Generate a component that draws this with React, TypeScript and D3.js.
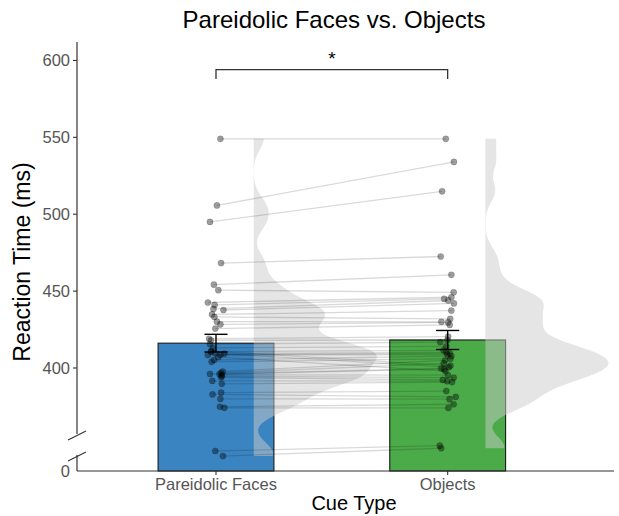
import React from "react";
import * as d3 from "d3";

// ---------------- data ----------------
const categories = ["Pareidolic Faces", "Objects"];
// reaction times (ms) per participant, same order in both arrays (paired)
const facesRT = [549, 505.7, 495, 468.2, 454.2, 450.6, 442.6, 441, 438.4, 437.7, 434.8, 433.2, 430.1, 428.3, 425.6, 419, 418, 415.5, 413, 411, 410.6, 409.5, 409.3, 408.6, 408.5, 407, 405.2, 404, 397.7, 396.8, 396.1, 396, 395.5, 394.6, 393.9, 391.6, 389.7, 384, 382.8, 379.9, 374.8, 374.1, 346, 342.7];
const objectsRT = [549, 534, 514.9, 472.5, 460.6, 449.2, 446, 445, 443.9, 442, 437.3, 431.9, 430, 429.6, 428, 420.4, 418.2, 416.8, 414, 401.5, 411.5, 400.5, 410.2, 409.5, 408.7, 398, 407.8, 406, 405, 403, 399.8, 399.2, 395.4, 393.7, 392.2, 391.4, 390.8, 385, 381.2, 379.7, 376.4, 374, 349.5, 347.8];
// horizontal jitter (category units)
const facesJitter = [0.019, 0.004, -0.026, 0.022, -0.009, 0.01, -0.035, -0.006, -0.011, 0.032, -0.017, -0.007, 0.004, 0.019, -0.003, -0.03, -0.022, -0.026, -0.013, -0.02, -0.022, -0.004, 0.036, 0.019, -0.035, 0.01, -0.009, -0.019, 0.029, 0.022, -0.026, 0.015, 0.026, 0.025, 0.022, -0.016, 0.025, 0.022, -0.015, 0.019, 0.017, 0.036, -0.003, 0.03];
const objectsJitter = [-0.008, 0.027, -0.024, -0.03, 0.016, 0.026, 0.016, -0.015, 0.002, 0.027, 0.016, 0.011, -0.027, 0.002, 0.009, 0.002, -0.001, -0.032, -0.006, 0.012, -0.018, 0.005, -0.006, 0.009, -0.001, -0.01, 0.016, 0.012, -0.011, -0.017, -0.028, -0.015, 0.001, 0.026, -0.021, -0.002, 0.019, -0.006, 0.035, 0.008, 0.026, 0.003, -0.034, -0.028];
const yTicks = [400, 450, 500, 550, 600];
const yFloor = 333; // displayed as "0" below the axis break
const yTop = 612;
const floorLabel = "0";
const barColors = ["#3A85C1", "#4CAB49"];
const sigLabel = "*";
const sigLevel = 594;
const title = "Pareidolic Faces vs. Objects";
const xTitle = "Cue Type";
const yTitle = "Reaction Time (ms)";

// ---------------- layout ----------------
const W = 619;
const H = 516;
const left = 77;
const right = 614;
const top = 42;
const bottom = 471;
const FONT = "'Liberation Sans', Arial, Helvetica, sans-serif";

function gauss(u: number) {
  return Math.exp(-0.5 * u * u) / Math.sqrt(2 * Math.PI);
}

export default function App() {
  const x = d3.scaleLinear().domain([0.4, 2.718]).range([left, right]);
  const y = d3.scaleLinear().domain([yFloor, yTop]).range([bottom, top]);
  const groups = [facesRT, objectsRT];
  const jitters = [facesJitter, objectsJitter];
  const barW = 0.5;
  const violinNudge = 0.163;
  const violinMax = 123;
  const bw = 7;

  const stats = groups.map((g) => {
    const m = d3.mean(g) as number;
    const sd = d3.deviation(g) as number;
    return { mean: m, se: sd / Math.sqrt(g.length) };
  });

  const violins = groups.map((g, gi) => {
    const lo = d3.min(g) as number;
    const hi = d3.max(g) as number;
    const grid = d3.range(0, 257).map((i) => lo + ((hi - lo) * i) / 256);
    const dens = grid.map((v) => d3.mean(g, (d) => gauss((v - d) / bw)) as number);
    const maxD = d3.max(dens) as number;
    const base = x(gi + 1 + violinNudge);
    const pts = grid.map((v, i) => ({ v, w: (dens[i] / maxD) * violinMax }));
    const area = d3
      .area<{ v: number; w: number }>()
      .x0(() => base)
      .x1((d) => base + d.w)
      .y((d) => y(d.v))
      .curve(d3.curveLinear);
    return area(pts) as string;
  });

  const breakTop = 434;
  const breakBottom = 455;

  return (
    <svg
      width={W}
      height={H}
      style={{ position: "absolute", left: 0, top: 0, background: "#fff" }}
      fontFamily={FONT}
    >
      <rect x={0} y={0} width={W} height={H} fill="#fff" />
      {/* bars */}
      {stats.map((s, i) => (
        <rect
          key={"bar" + i}
          x={x(i + 1 - barW / 2)}
          y={y(s.mean)}
          width={x(i + 1 + barW / 2) - x(i + 1 - barW / 2)}
          height={y(yFloor) - y(s.mean)}
          fill={barColors[i]}
          stroke="#1a1a1a"
          strokeWidth={1.1}
        />
      ))}
      {/* half violins */}
      {violins.map((p, i) => (
        <path key={"vio" + i} d={p} fill="#cccccc" fillOpacity={0.5} stroke="none" />
      ))}
      {/* paired lines */}
      {facesRT.map((f, i) => (
        <line
          key={"ln" + i}
          x1={x(1 + facesJitter[i])}
          y1={y(f)}
          x2={x(2 + objectsJitter[i])}
          y2={y(objectsRT[i])}
          stroke="#000"
          strokeOpacity={0.15}
          strokeWidth={1.3}
        />
      ))}
      {/* points */}
      {groups.map((g, gi) =>
        g.map((v, i) => (
          <circle
            key={"pt" + gi + "-" + i}
            cx={x(gi + 1 + jitters[gi][i])}
            cy={y(v)}
            r={3.1}
            fill="#000"
            fillOpacity={0.38}
            stroke="#000"
            strokeOpacity={0.25}
            strokeWidth={0.6}
          />
        ))
      )}
      {/* error bars */}
      {stats.map((s, i) => {
        const cx = x(i + 1);
        const hw = x(1.05) - x(1);
        return (
          <g key={"eb" + i} stroke="#000" strokeWidth={1.4}>
            <line x1={cx} x2={cx} y1={y(s.mean + s.se)} y2={y(s.mean - s.se)} />
            <line x1={cx - hw} x2={cx + hw} y1={y(s.mean + s.se)} y2={y(s.mean + s.se)} />
            <line x1={cx - hw} x2={cx + hw} y1={y(s.mean - s.se)} y2={y(s.mean - s.se)} />
          </g>
        );
      })}
      {/* significance bracket */}
      <path
        d={`M${x(1)},${y(sigLevel - 6)}V${y(sigLevel)}H${x(2)}V${y(sigLevel - 6)}`}
        fill="none"
        stroke="#333"
        strokeWidth={1.3}
      />
      <text x={(x(1) + x(2)) / 2} y={y(sigLevel) - 5} textAnchor="middle" fontSize={19} fill="#000">
        {sigLabel}
      </text>
      {/* y axis */}
      <g stroke="#333" strokeWidth={1.2} fill="none">
        <line x1={left} x2={left} y1={top} y2={breakTop} />
        <line x1={left} x2={left} y1={breakBottom} y2={bottom} />
        <line x1={left - 9} x2={left + 9} y1={breakTop + 6} y2={breakTop - 3} />
        <line x1={left - 9} x2={left + 9} y1={breakBottom + 6} y2={breakBottom - 3} />
        <line x1={left} x2={right} y1={bottom} y2={bottom} />
      </g>
      {yTicks.map((t) => (
        <g key={"yt" + t}>
          <line x1={left - 4} x2={left} y1={y(t)} y2={y(t)} stroke="#333" strokeWidth={1.1} />
          <text x={left - 7} y={y(t)} dy="0.36em" textAnchor="end" fontSize={16.5} fill="#555">
            {t}
          </text>
        </g>
      ))}
      <text x={left - 7} y={bottom} dy="0.36em" textAnchor="end" fontSize={16.5} fill="#555">
        {floorLabel}
      </text>
      {/* x axis ticks */}
      {categories.map((c, i) => (
        <g key={"xt" + i}>
          <line x1={x(i + 1)} x2={x(i + 1)} y1={bottom} y2={bottom + 4} stroke="#333" strokeWidth={1.1} />
          <text x={x(i + 1)} y={bottom + 19} textAnchor="middle" fontSize={16.5} fill="#555">
            {c}
          </text>
        </g>
      ))}
      {/* titles */}
      <text x={334} y={28} textAnchor="middle" fontSize={24} fill="#000">
        {title}
      </text>
      <text x={354} y={510} textAnchor="middle" fontSize={20} fill="#000">
        {xTitle}
      </text>
      <text
        transform={`translate(30,262) rotate(-90)`}
        textAnchor="middle"
        fontSize={23}
        fill="#000"
      >
        {yTitle}
      </text>
    </svg>
  );
}
